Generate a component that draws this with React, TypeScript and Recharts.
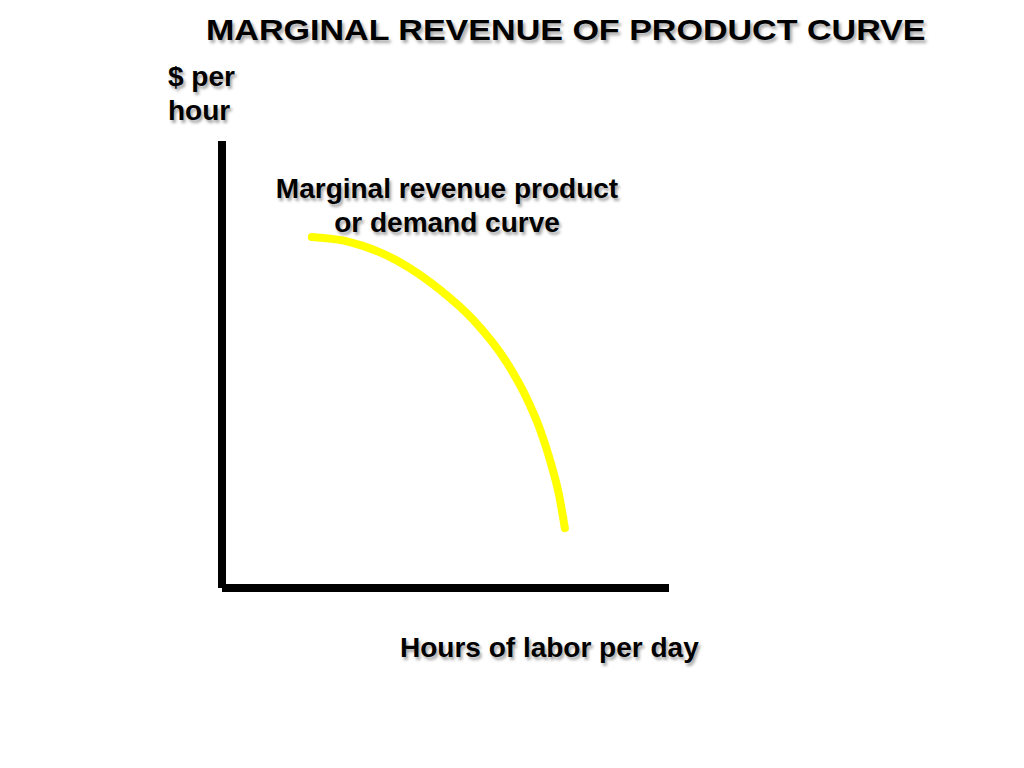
import { LineChart, Line, XAxis, YAxis } from "recharts";

// points (x: hours of labor, y: $ per hour), 0-100 scale
const hours = [20.1, 28.6, 39.8, 48.8, 56.2, 63.8, 67.9, 71.1, 73.5, 75.4, 76.7];
const mrp = [78.5, 77.4, 72.9, 66.7, 60.0, 50.3, 43.0, 35.6, 28.2, 20.8, 13.4];

const title = "MARGINAL REVENUE OF PRODUCT CURVE";
const yLabel = ["$ per", "hour"];
const curveLabel = ["Marginal revenue product", "or demand curve"];
const xLabel = "Hours of labor per day";

const chartData = hours.map((h, i) => ({ hours: h, mrp: mrp[i] }));

const textStyle: React.CSSProperties = {
  position: "absolute",
  fontFamily: '"Liberation Sans", Arial, sans-serif',
  fontWeight: "bold",
  color: "#000",
  textShadow: "2px 3px 3px rgba(0,0,0,0.35)",
  whiteSpace: "nowrap",
  margin: 0,
};

const App = () => {
  return (
    <div style={{ position: "absolute", left: 0, top: 0, width: 1024, height: 768, background: "#fff" }}>
      <LineChart
        width={1024}
        height={768}
        data={chartData}
        margin={{ top: 141, right: 355, bottom: 179, left: 221 }}
      >
        <XAxis
          dataKey="hours"
          type="number"
          domain={[0, 100]}
          height={1}
          tick={false}
          tickLine={false}
          axisLine={{ stroke: "#000", strokeWidth: 8 }}
        />
        <YAxis
          type="number"
          domain={[0, 100]}
          width={1}
          tick={false}
          tickLine={false}
          axisLine={{ stroke: "#000", strokeWidth: 8 }}
        />
        <Line
          dataKey="mrp"
          type="monotone"
          stroke="#ffff00"
          strokeWidth={8}
          strokeLinecap="round"
          dot={false}
          activeDot={false}
          isAnimationActive={false}
        />
      </LineChart>

      <div
        style={{
          ...textStyle,
          left: 206,
          top: 15,
          fontSize: 30,
          lineHeight: "30px",
          transform: "scaleX(1.135)",
          transformOrigin: "left top",
        }}
      >
        {title}
      </div>
      <div style={{ ...textStyle, left: 168, top: 60, fontSize: 28, lineHeight: "34px" }}>
        {yLabel.map((t) => (
          <div key={t}>{t}</div>
        ))}
      </div>
      <div style={{ ...textStyle, left: 247, top: 172, width: 400, fontSize: 28, lineHeight: "34px", textAlign: "center" }}>
        {curveLabel.map((t) => (
          <div key={t}>{t}</div>
        ))}
      </div>
      <div style={{ ...textStyle, left: 400, top: 631, fontSize: 28, lineHeight: "34px" }}>{xLabel}</div>
    </div>
  );
};

export default App;
